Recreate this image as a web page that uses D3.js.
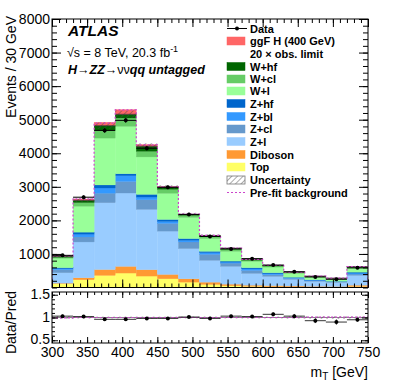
<!DOCTYPE html>
<html><head><meta charset="utf-8">
<script src="https://cdn.jsdelivr.net/npm/d3@7"></script>
<style>body{margin:0;background:#fff;} svg{display:block;font-family:"Liberation Sans",Arial,Helvetica,sans-serif;}</style>
</head><body><svg id="c" width="399" height="383"></svg>
<script>
// ---- data ----
const binEdges = [300,330,360,390,420,450,480,510,540,570,600,630,660,690,720,750];
const topQuark = [110,230,360,430,340,260,160,90,50,35,25,20,15,12,30];
const diboson  = [20,60,175,200,190,130,100,70,50,35,30,25,20,18,40];
const zl       = [310,1067,1990,2185,1796,1290,899,648,529,349,275,195,145,120,289];
const zcl      = [90,149,285,345,288,230,198,180,98,90,50,35,25,20,41];
const zbl      = [30,84,155,170,81,60,50,51,30,46,30,17,13,10,30];
const zhf      = [30,60,90,60,80,57,51,39,30,35,30,16,12,9,28];
const wl       = [280,770,1396,1410,1115,778,629,380,291,188,168,111,80,66,120];
const wcl      = [30,110,240,250,170,125,63,62,62,37,32,26,18,15,27];
const whf      = [25,70,130,110,150,60,30,30,30,23,19,13,10,8,15];
const signal   = [10,35,100,140,50,15,6,5,3,2,1,1,1,1,1];
const dataVals = [958,2690,4680,4980,4150,2985,2177,1520,1150,860,668,470,314,245,585];
const uncert   = [30,60,100,110,90,60,45,35,25,20,15,12,10,9,15];
const prefit   = [950,2640,4900,5290,4250,3000,2185,1555,1175,840,660,460,340,280,622];
const ratioVals   = [1.03,1.02,0.96,0.96,0.98,0.98,1.01,0.98,1.03,1.02,1.07,1.03,0.93,0.90,0.95];
const prefitRatio = [0.99,1.0,1.0,1.0,1.0,1.0,1.0,1.0,1.0,1.0,1.0,1.0,1.01,1.01,1.01];
const yTicksMain = [1000,2000,3000,4000,5000,6000,7000,8000];
const yTicksRatio = [0.5,1,1.5];
const xTicks = [300,350,400,450,500,550,600,650,700,750];

const layerNames  = ["Top","Diboson","Z+l","Z+cl","Z+bl","Z+hf","W+l","W+cl","W+hf"];
const layerArrays = [topQuark,diboson,zl,zcl,zbl,zhf,wl,wcl,whf];
const layerColors = ["#ffff66","#ff9933","#99ccff","#6699cc","#3399ff","#0066cc","#99ff99","#66cc66","#006600"];
const sigColor = "#ff6666";
const prefitColor = "#cc44cc";

// ---- layout ----
const L = 52, R = 368, T1 = 19, B1 = 287.5, T2 = 292, B2 = 343;
const x = d3.scaleLinear().domain([300,750]).range([L,R]);
const y = d3.scaleLinear().domain([0,8000]).range([B1,T1]);
const yr = d3.scaleLinear().domain([0.44,1.56]).range([B2,T2]);

const svg = d3.select("#c");
const defs = svg.append("defs");
const pat = defs.append("pattern").attr("id","hatch").attr("patternUnits","userSpaceOnUse")
  .attr("width",4).attr("height",4).attr("patternTransform","rotate(45)");
pat.append("line").attr("x1",0).attr("y1",0).attr("x2",0).attr("y2",4).attr("stroke","#444").attr("stroke-width",0.9);
defs.append("clipPath").attr("id","clipMain").append("rect").attr("x",L).attr("y",T1).attr("width",R-L).attr("height",B1-T1);
defs.append("clipPath").attr("id","clipRatio").append("rect").attr("x",L).attr("y",T2).attr("width",R-L).attr("height",B2-T2);

const nb = binEdges.length-1;
const table = d3.range(nb).map(i => {
  const o = {i};
  layerNames.forEach((n,k)=> o[n] = layerArrays[k][i]);
  o.sig = signal[i];
  return o;
});
const stack = d3.stack().keys([...layerNames,"sig"])(table);
const colors = [...layerColors, sigColor];

const gMain = svg.append("g").attr("clip-path","url(#clipMain)");
stack.forEach((layer,k) => {
  gMain.append("g").selectAll("rect").data(layer).join("rect")
    .attr("x", (d,i)=> x(binEdges[i]))
    .attr("width", (d,i)=> x(binEdges[i+1]) - x(binEdges[i]))
    .attr("y", d=> y(d[1]))
    .attr("height", d=> Math.max(0, y(d[0]) - y(d[1])))
    .attr("fill", colors[k])
    .attr("stroke", colors[k]).attr("stroke-width",0.3);
});
const bkgTot = table.map(d => layerNames.reduce((s,n)=>s+d[n],0));

// uncertainty hatch
gMain.append("g").selectAll("rect").data(bkgTot).join("rect")
  .attr("x",(d,i)=>x(binEdges[i])).attr("width",(d,i)=>x(binEdges[i+1])-x(binEdges[i]))
  .attr("y",(d,i)=>y(d+uncert[i])).attr("height",(d,i)=>y(d-uncert[i])-y(d+uncert[i]))
  .attr("fill","url(#hatch)");
// total bkg outline
gMain.append("g").selectAll("line").data(bkgTot).join("line")
  .attr("x1",(d,i)=>x(binEdges[i])).attr("x2",(d,i)=>x(binEdges[i+1]))
  .attr("y1",d=>y(d)).attr("y2",d=>y(d)).attr("stroke","#333").attr("stroke-width",0.8);

// prefit step line
function stepPts(vals, ys){
  const pts = [];
  vals.forEach((v,i)=>{ pts.push([x(binEdges[i]), ys(v)]); pts.push([x(binEdges[i+1]), ys(v)]); });
  return pts;
}
const prePts = [[x(binEdges[0]), y(0)], ...stepPts(prefit,y), [x(binEdges[nb]), y(0)]];
gMain.append("path").attr("d", d3.line()(prePts)).attr("fill","none")
  .attr("stroke",prefitColor).attr("stroke-width",1.2).attr("stroke-dasharray","2,2");

// data points
const centers = d3.range(nb).map(i => (binEdges[i]+binEdges[i+1])/2);
const gData = svg.append("g").attr("clip-path","url(#clipMain)");
dataVals.forEach((v,i)=>{
  const e = Math.sqrt(v);
  gData.append("line").attr("x1",x(binEdges[i])).attr("x2",x(binEdges[i+1])).attr("y1",y(v)).attr("y2",y(v)).attr("stroke","#000").attr("stroke-width",1);
  gData.append("line").attr("x1",x(centers[i])).attr("x2",x(centers[i])).attr("y1",y(v-e)).attr("y2",y(v+e)).attr("stroke","#000").attr("stroke-width",1);
  gData.append("circle").attr("cx",x(centers[i])).attr("cy",y(v)).attr("r",2).attr("fill","#000");
});

// ---- ratio panel ----
const gR = svg.append("g").attr("clip-path","url(#clipRatio)");
gR.append("g").selectAll("rect").data(bkgTot).join("rect")
  .attr("x",(d,i)=>x(binEdges[i])).attr("width",(d,i)=>x(binEdges[i+1])-x(binEdges[i]))
  .attr("y",(d,i)=>yr(1+uncert[i]/d)).attr("height",(d,i)=>yr(1-uncert[i]/d)-yr(1+uncert[i]/d))
  .attr("fill","url(#hatch)");
gR.append("line").attr("x1",L).attr("x2",R).attr("y1",yr(1)).attr("y2",yr(1)).attr("stroke","#555").attr("stroke-width",0.7);
gR.append("path").attr("d", d3.line()(stepPts(prefitRatio,yr))).attr("fill","none")
  .attr("stroke",prefitColor).attr("stroke-width",1.2).attr("stroke-dasharray","2,2");
ratioVals.forEach((r,i)=>{
  const e = r/Math.sqrt(dataVals[i]);
  gR.append("line").attr("x1",x(binEdges[i])).attr("x2",x(binEdges[i+1])).attr("y1",yr(r)).attr("y2",yr(r)).attr("stroke","#000").attr("stroke-width",0.8);
  gR.append("line").attr("x1",x(centers[i])).attr("x2",x(centers[i])).attr("y1",yr(r-e)).attr("y2",yr(r+e)).attr("stroke","#000").attr("stroke-width",0.8);
  gR.append("circle").attr("cx",x(centers[i])).attr("cy",yr(r)).attr("r",2).attr("fill","#000");
});

// ---- frames & axes ----
svg.append("rect").attr("x",L).attr("y",T1).attr("width",R-L).attr("height",B1-T1).attr("fill","none").attr("stroke","#000").attr("stroke-width",1);
svg.append("rect").attr("x",L).attr("y",T2).attr("width",R-L).attr("height",B2-T2).attr("fill","none").attr("stroke","#000").attr("stroke-width",1);

function axisG(gen, tx, ty){
  const g = svg.append("g").attr("transform",`translate(${tx},${ty})`).call(gen);
  g.select(".domain").remove();
  g.selectAll("line").attr("stroke","#000");
  g.selectAll("text").attr("font-size",14).attr("fill","#000").attr("font-family",'"Liberation Sans",Arial,sans-serif');
  return g;
}
const minorX = d3.range(300,751,10);
const minorY = d3.range(0,8001,200);
const minorYr = d3.range(0.5,1.51,0.1);
// main
axisG(d3.axisLeft(y).tickValues(yTicksMain).tickSize(-9).tickPadding(2).tickFormat(d3.format("d")), L, 0);
axisG(d3.axisLeft(y).tickValues(minorY).tickSize(-5).tickFormat(""), L, 0);
axisG(d3.axisRight(y).tickValues(yTicksMain).tickSize(-9).tickFormat(""), R, 0);
axisG(d3.axisRight(y).tickValues(minorY).tickSize(-5).tickFormat(""), R, 0);
axisG(d3.axisBottom(x).tickValues(xTicks).tickSize(-8).tickFormat(""), 0, B1);
axisG(d3.axisBottom(x).tickValues(minorX).tickSize(-4).tickFormat(""), 0, B1);
axisG(d3.axisTop(x).tickValues(xTicks).tickSize(-8).tickFormat(""), 0, T1);
axisG(d3.axisTop(x).tickValues(minorX).tickSize(-4).tickFormat(""), 0, T1);
// ratio
const ryl = axisG(d3.axisLeft(yr).tickValues(yTicksRatio).tickSize(-6).tickPadding(2).tickFormat(d=>String(d)), L, 0);
ryl.selectAll("text").attr("dy","0.3em");
ryl.selectAll(".tick").filter(d=>d===0.5).select("text").attr("dy","0.22em");
axisG(d3.axisLeft(yr).tickValues(minorYr).tickSize(-3).tickFormat(""), L, 0);
axisG(d3.axisRight(yr).tickValues(yTicksRatio).tickSize(-6).tickFormat(""), R, 0);
axisG(d3.axisRight(yr).tickValues(minorYr).tickSize(-3).tickFormat(""), R, 0);
axisG(d3.axisBottom(x).tickValues(xTicks).tickSize(-6).tickPadding(4.5).tickFormat(d3.format("d")), 0, B2);
axisG(d3.axisBottom(x).tickValues(minorX).tickSize(-3).tickFormat(""), 0, B2);
axisG(d3.axisTop(x).tickValues(xTicks).tickSize(-6).tickFormat(""), 0, T2);
axisG(d3.axisTop(x).tickValues(minorX).tickSize(-3).tickFormat(""), 0, T2);

// titles
svg.append("text").attr("transform","translate(16,16) rotate(-90)").attr("text-anchor","end")
  .attr("font-size",14).text("Events / 30 GeV");
svg.append("text").attr("transform","translate(16,291) rotate(-90)").attr("text-anchor","end")
  .attr("font-size",14).text("Data/Pred");
const xt = svg.append("text").attr("x",368).attr("y",377).attr("text-anchor","end").attr("font-size",14);
xt.append("tspan").text("m");
xt.append("tspan").attr("font-size",10).attr("dy",3).text("T");
xt.append("tspan").attr("dy",-3).text(" [GeV]");

// labels
svg.append("text").attr("x",68).attr("y",36).attr("font-size",15.5).attr("font-weight","bold").attr("font-style","italic").text("ATLAS");
const t2 = svg.append("text").attr("x",67).attr("y",57).attr("font-size",12.5);
t2.append("tspan").text("\u221As = 8 TeV, 20.3 fb");
t2.append("tspan").attr("font-size",9).attr("dy",-5).text("-1");
const t3 = svg.append("text").attr("x",68).attr("y",74).attr("font-size",12.5);
t3.append("tspan").attr("font-weight","bold").attr("font-style","italic").text("H");
t3.append("tspan").text("\u2192");
t3.append("tspan").attr("font-weight","bold").attr("font-style","italic").text("ZZ");
t3.append("tspan").text("\u2192\u03BD\u03BD");
t3.append("tspan").attr("font-weight","bold").attr("font-style","italic").text("qq untagged");

// legend
const legX = 227, legTX = 250, bw = 18, bh = 8;
const legRows = [
  {t:"Data", kind:"data", y:28.5},
  {t:"ggF H (400 GeV)", kind:"box", c:sigColor, y:41},
  {t:"20 \u00D7 obs. limit", kind:"none", y:53.5},
  {t:"W+hf", kind:"box", c:layerColors[8], y:66.5},
  {t:"W+cl", kind:"box", c:layerColors[7], y:79},
  {t:"W+l", kind:"box", c:layerColors[6], y:91},
  {t:"Z+hf", kind:"box", c:layerColors[5], y:103.5},
  {t:"Z+bl", kind:"box", c:layerColors[4], y:116.5},
  {t:"Z+cl", kind:"box", c:layerColors[3], y:129},
  {t:"Z+l", kind:"box", c:layerColors[2], y:141.5},
  {t:"Diboson", kind:"box", c:layerColors[1], y:154.5},
  {t:"Top", kind:"box", c:layerColors[0], y:167},
  {t:"Uncertainty", kind:"hatch", y:180},
  {t:"Pre-fit background", kind:"dash", y:192.5}
];
const gL = svg.append("g");
legRows.forEach(r=>{
  if(r.kind==="box"){
    gL.append("rect").attr("x",legX).attr("y",r.y-bh/2).attr("width",bw).attr("height",bh).attr("fill",r.c).attr("stroke",r.c).attr("stroke-width",0.5);
  } else if(r.kind==="hatch"){
    gL.append("rect").attr("x",legX).attr("y",r.y-bh/2).attr("width",bw).attr("height",bh).attr("fill","url(#hatch)").attr("stroke","#777").attr("stroke-width",0.8);
  } else if(r.kind==="data"){
    gL.append("line").attr("x1",legX).attr("x2",legX+bw+2).attr("y1",r.y).attr("y2",r.y).attr("stroke","#000");
    gL.append("circle").attr("cx",legX+bw/2+1).attr("cy",r.y).attr("r",2).attr("fill","#000");
  } else if(r.kind==="dash"){
    gL.append("line").attr("x1",legX).attr("x2",legX+bw+2).attr("y1",r.y).attr("y2",r.y).attr("stroke",prefitColor).attr("stroke-width",1.2).attr("stroke-dasharray","2,2");
  }
  gL.append("text").attr("x",legTX).attr("y",r.y+4).attr("font-size",11).attr("font-weight","bold").text(r.t);
});
</script></body></html>
